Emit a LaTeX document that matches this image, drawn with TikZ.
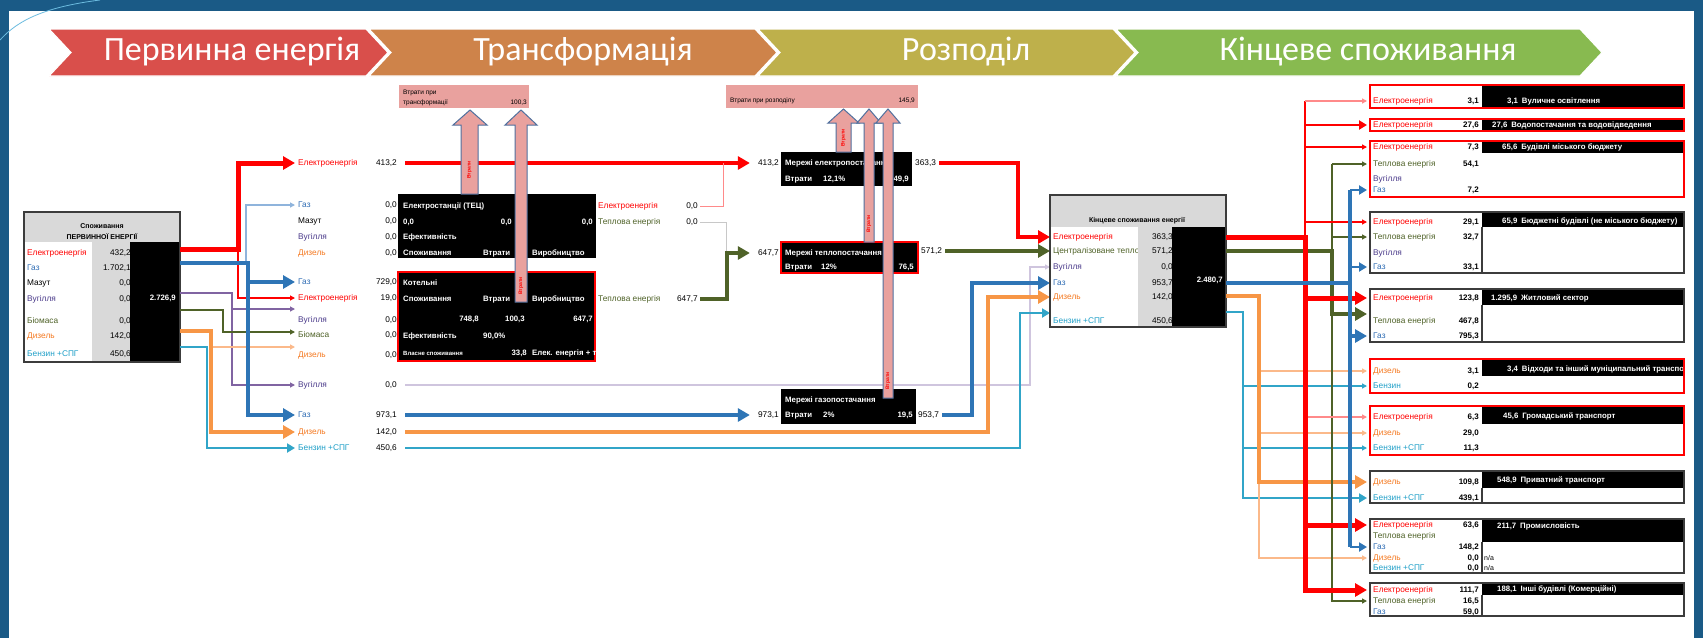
\documentclass[tikz,border=0pt]{standalone}
\usepackage{fontspec}
\setmainfont{Liberation Sans}
\newfontfamily\hdfont{Carlito}
\usetikzlibrary{arrows.meta}
\definecolor{frameblue}{HTML}{1A5A86}
\definecolor{swooshc}{HTML}{6CBCE0}
\definecolor{cRed}{HTML}{FF0000}
\definecolor{cLRed}{HTML}{FF8A8A}
\definecolor{cBlue}{HTML}{2E75B6}
\definecolor{cLBlue}{HTML}{8FB4DC}
\definecolor{cGreen}{HTML}{4F6228}
\definecolor{cLGrey}{HTML}{C8C8C8}
\definecolor{cPurp}{HTML}{8064A2}
\definecolor{cLPurp}{HTML}{CFC5DE}
\definecolor{cOrange}{HTML}{F79646}
\definecolor{cLOrange}{HTML}{FBB98A}
\definecolor{cCyan}{HTML}{31A5C8}
\definecolor{cGreyFill}{HTML}{D9D9D9}
\definecolor{lossFill}{HTML}{E9A19E}
\definecolor{lossEdge}{HTML}{50709E}
\definecolor{chRed}{HTML}{D94F4B}
\definecolor{chOrange}{HTML}{CE834A}
\definecolor{chOlive}{HTML}{BEB04B}
\definecolor{chGreen}{HTML}{88BA50}
\definecolor{tPurp}{HTML}{4A3A8A}
\definecolor{tGreen}{HTML}{4F6228}
\definecolor{tOrange}{HTML}{F57A22}
\definecolor{tBlue}{HTML}{2F6DB5}
\definecolor{tCyan}{HTML}{1E9FC8}
\definecolor{boxEdge}{HTML}{3C3C3C}
\tikzset{
 lbl/.style={inner sep=0pt, anchor=west, font=\fontsize{8.3}{9}\selectfont, text height=6pt, text depth=1.8pt},
 num/.style={lbl, anchor=east},
 bnum/.style={num, font=\fontsize{8}{9}\selectfont\bfseries},
 wlbl/.style={lbl, text=white, font=\fontsize{7.8}{9}\selectfont\bfseries},
 wnum/.style={wlbl, anchor=east},
 smalltxt/.style={lbl, font=\fontsize{6.5}{7}\selectfont},
 hd/.style={inner sep=0pt, text=white, font=\hdfont\fontsize{34}{36}\selectfont},
 losstxt/.style={inner sep=0pt, text=cRed, font=\fontsize{5}{6}\selectfont\bfseries, rotate=90},
 lossarrow/.style={fill=lossFill, draw=lossEdge, line width=1pt},
 bxs/.style={inner sep=0pt, outer sep=0pt, anchor=north west},
 tipL/.style={-{Triangle[length=12pt,width=13pt]}},
 tipM/.style={-{Triangle[length=8pt,width=9pt]}},
 tipS/.style={-{Triangle[length=5pt,width=5pt]}},
}
\newcommand\mkchev[3]{\filldraw[fill=#3, draw=white, line width=1.2pt] (#1,29) -- (#2,29) -- ({#2+22},52.5) -- (#2,76) -- (#1,76) -- ({#1+22},52.5) -- cycle;}
\newcommand\lossarr[7]{\filldraw[lossarrow] (#1,#3) -- (#1,#4) -- (#6,#4) -- ({(#6+#7)/2},#5) -- (#7,#4) -- (#2,#4) -- (#2,#3) -- cycle;}
\newcommand\trow[5]{\node[lbl, text=#3] (t#1) at (298,#2) {#4};\node[num] (v#1) at (397,#2) {#5};}
\newcommand\rrow[5]{\node[lbl, text=#3] (#1) at (1373,#2) {#4};\node[bnum] (#1v) at (1479,#2) {#5};}
\newcommand\rbx[8]{%
 \fill[black] (1482,#2) rectangle (1684,#4);
 \begin{scope}\clip (1482,#2) rectangle (1682,#4);
 \node[wlbl] (#1h) at (#6,#7) {#8};
 \end{scope}
 \node[bxs, draw=#5, line width=1.8pt, minimum width=314pt, minimum height={(#3-#2)*1pt}] (#1) at (1370,#2) {};}
\begin{document}
\begin{tikzpicture}[x=1pt,y=-1pt]
\useasboundingbox (0,0) rectangle (1703,638);
\fill[white] (0,0) rectangle (1703,638);
% frame
\fill[frameblue] (0,0) rectangle (1703,11);
\fill[frameblue] (0,0) rectangle (9,638);
\fill[frameblue] (1694,0) rectangle (1703,638);
\draw[swooshc, line width=0.8pt] (0,40) .. controls (18,20) and (45,7) .. (100,0);
% header chevrons
\mkchev{49}{366}{chRed}
\mkchev{369}{755}{chOrange}
\mkchev{758}{1113}{chOlive}
\mkchev{1116}{1580}{chGreen}
\node[hd] (h1) at (232,52) {Первинна енергія};
\node[hd] (h2) at (583,52) {Трансформація};
\node[hd] (h3) at (966,52) {Розподіл};
\node[hd] (h4) at (1368,52) {Кінцеве споживання};

% ---------- primary box ----------
\node[bxs, minimum width=156pt, minimum height=150pt] (pbox) at (24,212) {};
\fill[cGreyFill] (24,212) rectangle (180,242);
\fill[cGreyFill] (92,242) rectangle (130,362);
\node[inner sep=0pt, font=\fontsize{7}{8}\selectfont\bfseries] (pT1) at (102,226) {Споживання};
\node[inner sep=0pt, font=\fontsize{7}{8}\selectfont\bfseries] (pT2) at (102,237) {ПЕРВИННОЇ ЕНЕРГІЇ};
\node[lbl, text=cRed] (pE) at (27,253) {Електроенергія};
\node[lbl, text=tBlue] (pG) at (27,268) {Газ};
\node[lbl] (pM) at (27,283) {Мазут};
\node[lbl, text=tPurp] (pC) at (27,299) {Вугілля};
\node[lbl, text=tGreen] (pB) at (27,321) {Біомаса};
\node[lbl, text=tOrange] (pD) at (27,336) {Дизель};
\node[lbl, text=tCyan] (pP) at (27,354) {Бензин +СПГ};
\node[num] (pEv) at (131,253) {432,2};
\node[num] (pGv) at (131,268) {1.702,1};
\node[num] (pMv) at (131,283) {0,0};
\node[num] (pCv) at (131,299) {0,0};
\node[num] (pBv) at (131,321) {0,0};
\node[num] (pDv) at (131,336) {142,0};
\node[num] (pPv) at (131,354) {450,6};
\fill[black] (130,242) rectangle (180,362);
\node[wnum] (pTot) at (176,298) {2.726,9};
\draw[boxEdge, line width=1.2pt] (pbox.north west) rectangle (pbox.south east);

% ---------- transformation column labels ----------
\trow{E1}{163}{cRed}{Електроенергія}{413,2}
\trow{G1}{205}{tBlue}{Газ}{0,0}
\trow{M}{221}{black}{Мазут}{0,0}
\trow{C1}{237}{tPurp}{Вугілля}{0,0}
\trow{D1}{253}{tOrange}{Дизель}{0,0}
\trow{G2}{282}{tBlue}{Газ}{729,0}
\trow{E2}{298}{cRed}{Електроенергія}{19,0}
\trow{C2}{320}{tPurp}{Вугілля}{0,0}
\trow{B}{335}{tGreen}{Біомаса}{0,0}
\trow{D2}{355}{tOrange}{Дизель}{0,0}
\trow{C3}{385}{tPurp}{Вугілля}{0,0}
\trow{G3}{415}{tBlue}{Газ}{973,1}
\trow{D3}{432}{tOrange}{Дизель}{142,0}
\trow{P}{448}{tCyan}{Бензин +СПГ}{450,6}
\coordinate (aC2) at (295,309);
\coordinate (aB) at (295,332);
\coordinate (aD2) at (295,347);

% left connectors
\draw[cRed, line width=1.2pt, tipS] (238,249) |- ([xshift=-3pt]tE2.west);
\draw[cLBlue, line width=1.2pt, tipS] (246,263) |- ([xshift=-3pt]tG1.west);
\draw[cPurp, line width=1.2pt, tipS] (pbox.east |- 0,293) -- (232,293) |- ([xshift=-3pt]tC3.west);
\draw[cPurp, line width=1.2pt, tipS] (232,309) -- (aC2);
\draw[cGreen, line width=1.2pt, tipS] (pbox.east |- 0,310) -- (223,310) |- (aB);
\draw[cLOrange, line width=1.2pt, tipS] (211,347) -- (aD2);
\draw[cCyan, line width=2pt, tipM] (pbox.east |- 0,347) -- (207,347) |- ([xshift=-3pt]tP.west);
\draw[cOrange, line width=4.5pt, tipL] (pbox.east |- 0,331) -- (211,331) |- ([xshift=-3pt]tD3.west);
\draw[cBlue, line width=4pt, tipL] (pbox.east |- 0,263) -- (248,263) |- ([xshift=-3pt]tG2.west);
\draw[cBlue, line width=4pt, tipL] (248,263) |- ([xshift=-3pt]tG3.west);
\draw[cRed, line width=5pt, tipL] (pbox.east |- 0,249) -- (238,249) |- ([xshift=-3pt]tE1.west);

% ---------- distribution values ----------
\node[num] (dE) at (779,163) {413,2};
\node[num] (dT) at (779,253) {647,7};
\node[num] (dG) at (779,415) {973,1};
\node[lbl] (dE2) at (915,163) {363,3};
\node[lbl] (dT2) at (921,251) {571,2};
\node[lbl] (dG2) at (918,415) {953,7};

% ---------- final box node ----------
\node[bxs, minimum width=176pt, minimum height=132pt] (fbox) at (1050,195) {};

% long lines
\draw[cLPurp, line width=1.5pt, tipS] ([xshift=8pt]vC3.east) -- (1030,385) -- (1030,267) -- (fbox.west |- 0,267);
\draw[cCyan, line width=2pt, tipM] ([xshift=8pt]vP.east) -- (1020,448) -- (1020,313) -- (fbox.west |- 0,313);
\draw[cOrange, line width=4pt, tipL] ([xshift=8pt]vD3.east) -- (988,432) -- (988,297) -- (fbox.west |- 0,297);
\draw[cBlue, line width=4pt, tipL] ([xshift=8pt]vG3.east) -- ([xshift=-8pt]dG.west);
\draw[cRed, line width=4pt, tipL] ([xshift=8pt]vE1.east) -- ([xshift=-8pt]dE.west);
\draw[cBlue, line width=4pt, tipL] ([xshift=3pt]dG2.east) -- (972,415) -- (972,283) -- (fbox.west |- 0,283);
\draw[cRed, line width=4.5pt, tipL] ([xshift=3pt]dE2.east) -- (1018,163) -- (1018,237) -- (fbox.west |- 0,237);
\draw[cGreen, line width=4.5pt, tipL] ([xshift=3pt]dT2.east) -- (fbox.west |- dT2.east);

% ---------- TPP / boiler ----------
\node[bxs, fill=black, minimum width=198pt, minimum height=64pt] (tpp) at (398,194) {};
\node[wlbl] (tpp1) at (403,206) {Електростанції (ТЕЦ)};
\node[wlbl] (tpp2) at (403,222) {0,0};
\node[wnum] (tpp3) at (512,222) {0,0};
\node[wnum] (tpp4) at (593,222) {0,0};
\node[wlbl] (tpp5) at (403,237) {Ефективність};
\node[wlbl] (tpp6) at (403,253) {Споживання};
\node[wlbl] (tpp7) at (483,253) {Втрати};
\node[wlbl] (tpp8) at (532,253) {Виробництво};

\node[bxs, fill=black, draw=cRed, line width=1.5pt, minimum width=197pt, minimum height=89pt] (blr) at (398,272) {};
\node[wlbl] (b1) at (403,283) {Котельні};
\node[wlbl] (b2) at (403,299) {Споживання};
\node[wlbl] (b3) at (483,299) {Втрати};
\node[wlbl] (b4) at (532,299) {Виробництво};
\node[wnum] (b5) at (479,319) {748,8};
\node[wlbl] (b6) at (505,319) {100,3};
\node[wnum] (b7) at (593,319) {647,7};
\node[wlbl] (b8) at (403,336) {Ефективність};
\node[wlbl] (b9) at (483,336) {90,0\%};
\node[wlbl, font=\fontsize{6}{7}\selectfont\bfseries] (b10) at (403,353) {Власне споживання};
\node[wnum] (b11) at (527,353) {33,8};
\begin{scope}\clip (530,345) rectangle (597,360);
\node[wlbl] (b12) at (532,353) {Елек. енергія + т};
\end{scope}

\node[lbl, text=cRed] (oE) at (598,206) {Електроенергія};
\node[num] (oEv) at (698,206) {0,0};
\node[lbl, text=tGreen] (oT) at (598,222) {Теплова енергія};
\node[num] (oTv) at (698,222) {0,0};
\node[lbl, text=tGreen] (oT2) at (598,299) {Теплова енергія};
\node[num] (oT2v) at (698,299) {647,7};
\draw[cLRed, line width=1pt] ([xshift=2pt]oEv.east) -- (723,206) -- (723,163);
\draw[cLGrey, line width=1pt] ([xshift=2pt]oTv.east) -- (726,222) -- (726,253);
\draw[cGreen, line width=4.5pt, tipL] ([xshift=2pt]oT2v.east) -- (727,299) -- (727,253) -- ([xshift=-8pt]dT.west);

% ---------- distribution boxes ----------
\node[bxs, fill=black, minimum width=131pt, minimum height=34pt] (dEl) at (781,152) {};
\node[wlbl] (dEl1) at (785,163) {Мережі електропостачання};
\node[wlbl] (dEl2) at (785,179) {Втрати};
\node[wlbl] (dEl3) at (823,179) {12,1\%};
\node[wnum] (dEl4) at (909,179) {49,9};
\node[bxs, fill=black, draw=cRed, line width=1.5pt, minimum width=137pt, minimum height=31pt] (dTe) at (781,242) {};
\node[wlbl] (dTe1) at (785,253) {Мережі теплопостачання};
\node[wlbl] (dTe2) at (785,267) {Втрати};
\node[wlbl] (dTe3) at (821,267) {12\%};
\node[wnum] (dTe4) at (914,267) {76,5};
\node[bxs, fill=black, minimum width=135pt, minimum height=35pt] (dGa) at (781,389) {};
\node[wlbl] (dGa1) at (785,400) {Мережі газопостачання};
\node[wlbl] (dGa2) at (785,415) {Втрати};
\node[wlbl] (dGa3) at (823,415) {2\%};
\node[wnum] (dGa4) at (913,415) {19,5};

% ---------- loss boxes ----------
\node[bxs, fill=lossFill, minimum width=130pt, minimum height=23pt] (lT) at (399,85) {};
\node[smalltxt] (lT1) at (403,92) {Втрати при};
\node[smalltxt] (lT2) at (403,102) {трансформації};
\node[smalltxt, anchor=east] (lT3) at (527,102) {100,3};
\node[bxs, fill=lossFill, minimum width=192pt, minimum height=23pt] (lD) at (726,85) {};
\node[smalltxt] (lD1) at (730,100) {Втрати при розподілу};
\node[smalltxt, anchor=east] (lD2) at (915,100) {145,9};

% loss arrows
\lossarr{461}{478}{194}{125}{110}{453}{487}
\node[losstxt] (la1) at (469.5,170) {Втрати};
\lossarr{515}{527}{302}{125}{110}{505}{537}
\node[losstxt] (la2) at (521,286) {Втрати};
\lossarr{836}{851}{152}{123}{109}{828}{859}
\node[losstxt] (la3) at (843.5,138) {Втрати};
\lossarr{864}{874}{242}{123}{109}{857}{881}
\node[losstxt] (la4) at (869,224) {Втрати};
\lossarr{883}{893}{398}{123}{109}{876}{900}
\node[losstxt] (la5) at (888,381) {Втрати};

% ---------- final box ----------
\fill[cGreyFill] (1050,195) rectangle (1226,227);
\node[inner sep=0pt, font=\fontsize{7}{8}\selectfont\bfseries] (fT) at (1137,221) {Кінцеве споживання енергії};
\node[lbl, text=cRed] (fE) at (1053,237) {Електроенергія};
\node[lbl, text=tGreen] (fT2) at (1053,251) {Централізоване тепло};
\node[lbl, text=tPurp] (fC) at (1053,267) {Вугілля};
\node[lbl, text=tBlue] (fG) at (1053,283) {Газ};
\node[lbl, text=tOrange] (fD) at (1053,297) {Дизель};
\node[lbl, text=tCyan] (fP) at (1053,321) {Бензин +СПГ};
\fill[cGreyFill] (1138,227) rectangle (1173,327);
\node[num] (fEv) at (1173,237) {363,3};
\node[num] (fTv) at (1173,251) {571,2};
\node[num] (fCv) at (1173,267) {0,0};
\node[num] (fGv) at (1173,283) {953,7};
\node[num] (fDv) at (1173,297) {142,0};
\node[num] (fPv) at (1173,321) {450,6};
\fill[black] (1172,227) rectangle (1226,327);
\node[wnum] (fTot) at (1223,280) {2.480,7};
\draw[boxEdge, line width=1.2pt] (fbox.north west) rectangle (fbox.south east);

% ---------- right boxes ----------
\rbx{rb1}{85}{108}{108}{cRed}{1507}{101}{3,1\enspace Вуличне освітлення}
\rbx{rb2}{119}{131}{131}{cRed}{1492}{125}{27,6\enspace Водопостачання та водовідведення}
\rbx{rb3}{141}{197}{153}{cRed}{1502}{147}{65,6\enspace Будівлі міського бюджету}
\rbx{rb4}{212}{273}{227}{boxEdge}{1502}{221}{65,9\enspace Бюджетні будівлі (не міського бюджету)}
\rbx{rb5}{289}{342}{305}{boxEdge}{1491}{298}{1.295,9\enspace Житловий сектор}
\rbx{rb6}{359}{393}{376}{cRed}{1507}{369}{3,4\enspace Відходи та інший муніципальний транспорт}
\rbx{rb7}{406}{455}{424}{cRed}{1503}{416}{45,6\enspace Громадський транспорт}
\rbx{rb8}{471}{503}{488}{boxEdge}{1497}{480}{548,9\enspace Приватний транспорт}
\rbx{rb9}{519}{573}{542}{boxEdge}{1497}{526}{211,7\enspace Промисловість}
\rbx{rb10}{583}{616}{595}{boxEdge}{1497}{589}{188,1\enspace Інші будівлі (Комерційні)}
\foreach \yy/\yb in {227/273, 305/342, 488/503, 542/573, 595/616}
  \draw[boxEdge, line width=1.5pt] (1482,\yy) -- (1482,\yb);

\rrow{r1E}{101}{cRed}{Електроенергія}{3,1}
\rrow{r2E}{125}{cRed}{Електроенергія}{27,6}
\rrow{r3E}{147}{cRed}{Електроенергія}{7,3}
\rrow{r3T}{164}{tGreen}{Теплова енергія}{54,1}
\rrow{r3C}{179}{tPurp}{Вугілля}{}
\rrow{r3G}{190}{tBlue}{Газ}{7,2}
\rrow{r4E}{222}{cRed}{Електроенергія}{29,1}
\rrow{r4T}{237}{tGreen}{Теплова енергія}{32,7}
\rrow{r4C}{253}{tPurp}{Вугілля}{}
\rrow{r4G}{267}{tBlue}{Газ}{33,1}
\rrow{r5E}{298}{cRed}{Електроенергія}{123,8}
\rrow{r5T}{321}{tGreen}{Теплова енергія}{467,8}
\rrow{r5G}{336}{tBlue}{Газ}{795,3}
\rrow{r6D}{371}{tOrange}{Дизель}{3,1}
\rrow{r6P}{386}{tCyan}{Бензин}{0,2}
\rrow{r7E}{417}{cRed}{Електроенергія}{6,3}
\rrow{r7D}{433}{tOrange}{Дизель}{29,0}
\rrow{r7P}{448}{tCyan}{Бензин +СПГ}{11,3}
\rrow{r8D}{482}{tOrange}{Дизель}{109,8}
\rrow{r8P}{498}{tCyan}{Бензин +СПГ}{439,1}
\rrow{r9E}{525}{cRed}{Електроенергія}{63,6}
\rrow{r9T}{536}{tGreen}{Теплова енергія}{}
\rrow{r9G}{547}{tBlue}{Газ}{148,2}
\rrow{r9D}{558}{tOrange}{Дизель}{0,0}
\rrow{r9P}{568}{tCyan}{Бензин +СПГ}{0,0}
\rrow{r10E}{590}{cRed}{Електроенергія}{111,7}
\rrow{r10T}{601}{tGreen}{Теплова енергія}{16,5}
\rrow{r10G}{612}{tBlue}{Газ}{59,0}
\node[lbl, font=\fontsize{7}{8}\selectfont] (na1) at (1484,558) {n/a};
\node[lbl, font=\fontsize{7}{8}\selectfont] (na2) at (1484,568) {n/a};

% ---------- right connectors ----------
\coordinate (xR) at (1305,0);
\coordinate (xG) at (1332,0);
\coordinate (xB) at (1350,0);
\coordinate (xO) at (1259,0);
\coordinate (xC) at (1243,0);
\coordinate (xIn) at (1367,0);
% cyan
\draw[cCyan, line width=2.5pt, tipM] (fbox.east |- 0,312) -| (xC |- r8P.west) -- (xIn |- r8P.west);
\foreach \n in {r6P, r7P}
  \draw[cCyan, line width=1.2pt, tipS] (xC |- \n.west) -- (xIn |- \n.west);
% orange
\draw[cLOrange, line width=1.2pt, tipS] (xO |- r8D.west) |- (xIn |- r9D.west);
\foreach \n in {r6D, r7D}
  \draw[cLOrange, line width=1.2pt, tipS] (xO |- \n.west) -- (xIn |- \n.west);
\draw[cOrange, line width=4pt, tipL] (fbox.east |- 0,296) -| (xO |- r8D.west) -- (xIn |- r8D.west);
% green
\draw[cGreen, line width=2pt] (xG |- 0,251) -- (xG |- r3T.west);
\foreach \n in {r3T, r4T}
  \draw[cGreen, line width=1.8pt, tipS] (xG |- \n.west) -- (xIn |- \n.west);
\draw[cGreen, line width=1.5pt, tipS] (xG |- 0,314) |- (xIn |- r10T.west);
\draw[cGreen, line width=4.5pt, tipL] (fbox.east |- 0,251) -| (xG |- 0,314) -- (xIn |- 0,314);
% red
\draw[cRed, line width=2.5pt] (xR |- 0,237) -- (xR |- r1E.west);
\draw[cLRed, line width=1.2pt, tipS] (xR |- r1E.west) -- (xIn |- r1E.west);
\draw[cRed, line width=2.5pt, tipM] (xR |- r2E.west) -- (xIn |- r2E.west);
\foreach \n in {r3E, r4E}
  \draw[cRed, line width=1.8pt, tipS] (xR |- \n.west) -- (xIn |- \n.west);
\draw[cLRed, line width=1.2pt, tipS] (xR |- r7E.west) -- (xIn |- r7E.west);
\foreach \n in {r5E, r9E}
  \draw[cRed, line width=5pt, tipL] (xR |- \n.west) -- (xIn |- \n.west);
\draw[cRed, line width=5pt, tipL] (fbox.east |- 0,237) -| (xR |- r10E.west) -- (xIn |- r10E.west);
% blue
\draw[cBlue, line width=4pt] (fbox.east |- 0,283) -- (xB |- 0,283);
\draw[cBlue, line width=3.5pt] (xB |- r3G.west) -- (xB |- r9G.west);
\foreach \n in {r3G, r4G, r9G}
  \draw[cBlue, line width=2.5pt, tipM] (xB |- \n.west) -- (xIn |- \n.west);
\draw[cBlue, line width=4pt, tipL] (xB |- r5G.west) -- (xIn |- r5G.west);
\end{tikzpicture}
\end{document}
